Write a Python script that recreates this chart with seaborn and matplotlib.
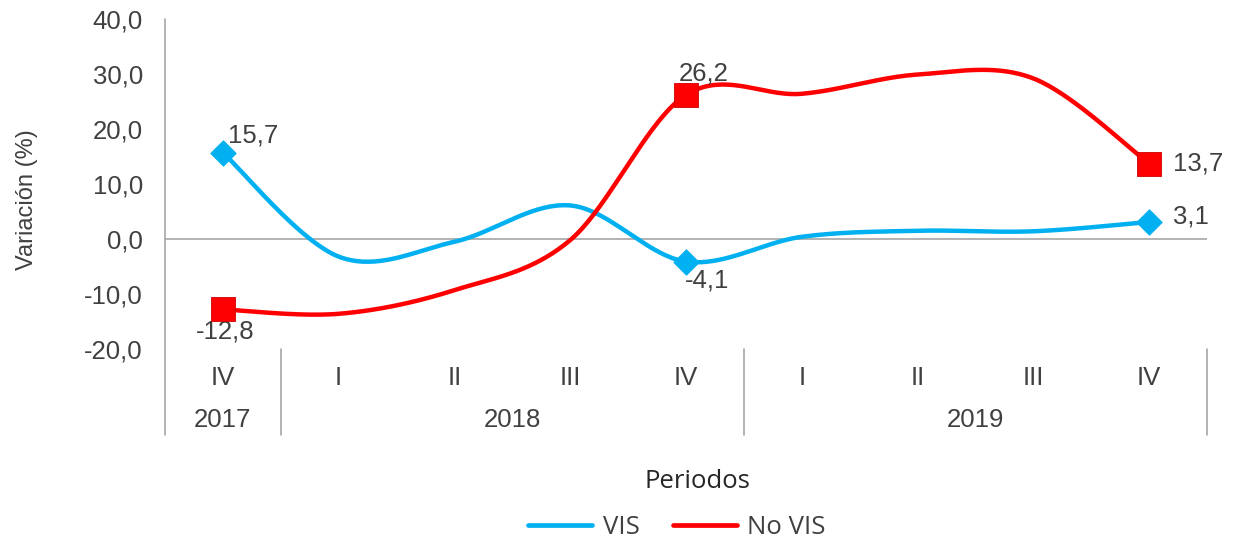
import numpy as np
import pandas as pd
import matplotlib
matplotlib.use("Agg")
import matplotlib.pyplot as plt
import matplotlib.transforms as mtransforms
from matplotlib.lines import Line2D
import seaborn as sns

# data
quarters = ["IV", "I", "II", "III", "IV", "I", "II", "III", "IV"]
years = ["2017", "2018", "2019"]
year_span = [(0, 0), (1, 4), (5, 8)]   # first/last category index of each year
vis = [15.7, -3.2, -0.5, 6.1, -4.1, 0.4, 1.5, 1.4, 3.1]
no_vis = [-12.8, -13.6, -9.3, -0.2, 26.2, 26.4, 29.9, 29.2, 13.7]
labeled_idx = [0, 4, 8]
y_ticks = [-20, -10, 0, 10, 20, 30, 40]

BLUE = "#00B0F0"
RED = "#FF0000"
TXT = "#404040"
FS = 18.5


def smooth(vals, n=40):
    # Excel-like smoothed line: cubic bezier through every point
    p = np.column_stack([np.arange(len(vals)), vals]).astype(float)
    out = []
    for i in range(len(p) - 1):
        p0 = p[i - 1] if i > 0 else p[i]
        p3 = p[i + 2] if i + 2 < len(p) else p[i + 1]
        c1 = p[i] + (p[i + 1] - p0) / 6
        c2 = p[i + 1] - (p3 - p[i]) / 6
        t = np.linspace(0, 1, n)[:, None]
        seg = ((1 - t) ** 3) * p[i] + 3 * ((1 - t) ** 2) * t * c1 + 3 * (1 - t) * t ** 2 * c2 + t ** 3 * p[i + 1]
        out.append(seg if i == 0 else seg[1:])
    return np.vstack(out)


rows = []
for name, vals in [("VIS", vis), ("No VIS", no_vis)]:
    s = smooth(vals)
    rows.append(pd.DataFrame({"x": s[:, 0], "y": s[:, 1], "serie": name}))
curves = pd.concat(rows, ignore_index=True)

sns.set_style("white")
plt.rcParams["font.family"] = ["Liberation Sans", "DejaVu Sans"]

fig = plt.figure(figsize=(12.36, 5.41), dpi=100)
ax = fig.add_axes([165 / 1236, 1 - 349 / 541, 1042 / 1236, 330 / 541])

sns.lineplot(data=curves, x="x", y="y", hue="serie", palette={"VIS": BLUE, "No VIS": RED},
             sort=False, estimator=None, linewidth=3.2, legend=False, ax=ax, zorder=3)

pts = pd.DataFrame({"x": labeled_idx, "vis": [vis[i] for i in labeled_idx],
                    "no_vis": [no_vis[i] for i in labeled_idx]})
sns.scatterplot(data=pts, x="x", y="vis", marker="D", s=160, color=BLUE, edgecolor=BLUE,
                ax=ax, zorder=4, legend=False)
sns.scatterplot(data=pts, x="x", y="no_vis", marker="s", s=290, color=RED, edgecolor="#D00000",
                linewidth=0.6, ax=ax, zorder=4, legend=False)

ax.set_xlim(-0.5, 8.5)
ax.set_ylim(-20, 40)
ax.axhline(0, color="#A6A6A6", linewidth=1.2, zorder=1)

for sp in ax.spines.values():
    sp.set_visible(False)

ax.set_yticks(y_ticks)
ax.set_yticklabels([f"{v:.1f}".replace(".", ",") for v in y_ticks], fontsize=FS, color=TXT)
ax.tick_params(axis="y", length=0, pad=16)
ax.set_xticks([])
ax.set_xlabel("")
ax.set_ylabel("")
fig.text(27 / 1236, 1 - 200 / 541, "Variación (%)", rotation=90, ha="center", va="center",
         fontsize=17, color=TXT)

# axis lines and category separators
trans = mtransforms.blended_transform_factory(ax.transData, ax.transAxes)
ax.plot([0, 0], [-0.26, 1.0], transform=ax.transAxes, color="#A6A6A6", lw=1.2, clip_on=False)
for sx in [0.5, 4.5, 8.5]:
    ax.plot([sx, sx], [-0.26, 0.0], transform=trans, color="#A6A6A6", lw=1.2, clip_on=False)

for i, q in enumerate(quarters):
    ax.text(i, -0.088, q, transform=trans, ha="center", va="center", fontsize=FS, color=TXT)
for yr, (a, b) in zip(years, year_span):
    ax.text((a + b) / 2, -0.215, yr, transform=trans, ha="center", va="center", fontsize=FS, color=TXT)

# data labels
lbl = dict(fontsize=FS, color=TXT)
ax.annotate("15,7", (0, vis[0]), xytext=(4, 4), textcoords="offset points", ha="left", va="bottom", **lbl)
ax.annotate("-4,1", (4, vis[4]), xytext=(-1, -5), textcoords="offset points", ha="left", va="top", **lbl)
ax.annotate("3,1", (8, vis[8]), xytext=(17, 4), textcoords="offset points", ha="left", va="center", **lbl)
ax.annotate("-12,8", (0, no_vis[0]), xytext=(2, -7), textcoords="offset points", ha="center", va="top", **lbl)
ax.annotate("26,2", (4, no_vis[4]), xytext=(13, 7), textcoords="offset points", ha="center", va="bottom", **lbl)
ax.annotate("13,7", (8, no_vis[8]), xytext=(17, 0), textcoords="offset points", ha="left", va="center", **lbl)

fig.text(697 / 1236, 1 - 482 / 541, "Periodos", ha="center", va="center", fontsize=18.5,
         color="#262626", family=["Open Sans", "DejaVu Sans"])

handles = [Line2D([0], [0], color=BLUE, lw=3.4), Line2D([0], [0], color=RED, lw=3.4)]
fig.legend(handles, ["VIS", "No VIS"], loc="center", bbox_to_anchor=(677 / 1236, 1 - 527 / 541),
           ncol=2, frameon=False, handlelength=2.5, handletextpad=0.4, columnspacing=1.3,
           prop={"family": ["Open Sans", "DejaVu Sans"], "size": 18.5}, labelcolor=TXT)

fig.savefig("out.png", dpi=100)
